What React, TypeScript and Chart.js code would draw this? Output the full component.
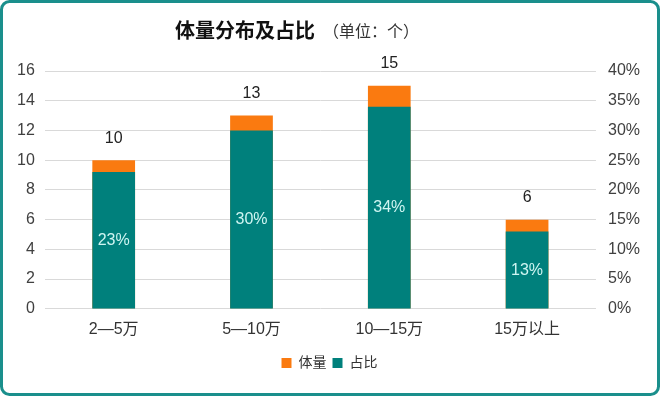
import React, { useEffect, useRef } from "react";
import { Chart, registerables } from "chart.js";

Chart.register(...registerables);

const categories = ["2—5万", "5—10万", "10—15万", "15万以上"];
const volume = [10, 13, 15, 6];
const share = [23, 30, 34, 13];
const leftTicksMax = 16;
const rightTicksMax = 40;

const FONT = "'Liberation Sans', 'Noto Sans CJK SC', sans-serif";
const ORANGE = "#FA7A10";
const TEAL = "#00807C";
const BORDER = "#1A8F8C";

const decorPlugin = {
  id: "decor",
  afterDatasetsDraw(chart: any) {
    const ctx = chart.ctx;
    ctx.save();
    const m0 = chart.getDatasetMeta(0);
    ctx.font = `16px ${FONT}`;
    ctx.fillStyle = "#222";
    ctx.textAlign = "center";
    ctx.textBaseline = "middle";
    m0.data.forEach((bar: any, i: number) => {
      ctx.fillText(String(volume[i]), bar.x, bar.y - 22);
    });
    const m1 = chart.getDatasetMeta(1);
    ctx.fillStyle = "#CFF5F2";
    m1.data.forEach((bar: any, i: number) => {
      ctx.fillText(share[i] + "%", bar.x, (bar.y + bar.base) / 2);
    });
    ctx.restore();
  },
  afterDraw(chart: any) {
    const ctx = chart.ctx;
    ctx.save();
    ctx.textBaseline = "middle";
    ctx.textAlign = "left";
    ctx.fillStyle = "#111";
    ctx.font = `bold 20px ${FONT}`;
    ctx.fillText("体量分布及占比", 175, 32);
    ctx.fillStyle = "#333";
    ctx.font = `16px ${FONT}`;
    ctx.fillText("（单位：个）", 323, 33);
    ctx.strokeStyle = BORDER;
    ctx.lineWidth = 3;
    const w = chart.width, h = chart.height;
    ctx.beginPath();
    (ctx as any).roundRect(1.5, 1.5, w - 3, h - 3, 8);
    ctx.stroke();
    ctx.restore();
  },
};

export default function App() {
  const ref = useRef<HTMLCanvasElement>(null);
  useEffect(() => {
    document.body.style.margin = "0";
    const chart = new Chart(ref.current!, {
      type: "bar",
      data: {
        labels: categories,
        datasets: [
          {
            label: "体量",
            data: volume,
            backgroundColor: ORANGE,
            yAxisID: "y",
            grouped: false,
            order: 2,
            barPercentage: 0.31,
            categoryPercentage: 1,
          } as any,
          {
            label: "占比",
            data: share,
            backgroundColor: TEAL,
            yAxisID: "y2",
            grouped: false,
            order: 1,
            barPercentage: 0.31,
            categoryPercentage: 1,
          } as any,
        ],
      },
      options: {
        animation: false,
        responsive: false,
        maintainAspectRatio: false,
        layout: { padding: { top: 71, left: 7, right: 8, bottom: 16 } },
        plugins: {
          tooltip: { enabled: false },
          title: { display: false },
          legend: {
            position: "bottom",
            labels: {
              boxWidth: 10,
              boxHeight: 10,
              padding: 6,
              color: "#333",
              font: { family: FONT, size: 14 },
              sort: (a: any, b: any) => a.datasetIndex - b.datasetIndex,
            },
          },
        },
        scales: {
          x: {
            grid: { display: false, drawTicks: false },
            border: { display: false },
            ticks: { color: "#333", font: { family: FONT, size: 16 }, padding: 11 },
          },
          y: {
            position: "left",
            min: 0,
            max: leftTicksMax,
            ticks: { stepSize: 2, color: "#404040", font: { family: FONT, size: 16 }, padding: 10 },
            grid: { color: "#D9D9D9", drawTicks: false },
            border: { display: false },
          },
          y2: {
            position: "right",
            min: 0,
            max: rightTicksMax,
            ticks: {
              stepSize: 5,
              color: "#404040",
              font: { family: FONT, size: 16 },
              padding: 12,
              callback: (v: any) => v + "%",
            },
            grid: { display: false, drawTicks: false },
            border: { display: false },
          },
        },
      },
      plugins: [decorPlugin],
    });
    return () => chart.destroy();
  }, []);
  return (
    <div style={{ width: 660, height: 396, background: "#fff" }}>
      <canvas ref={ref} width={660} height={396} style={{ display: "block" }} />
    </div>
  );
}
